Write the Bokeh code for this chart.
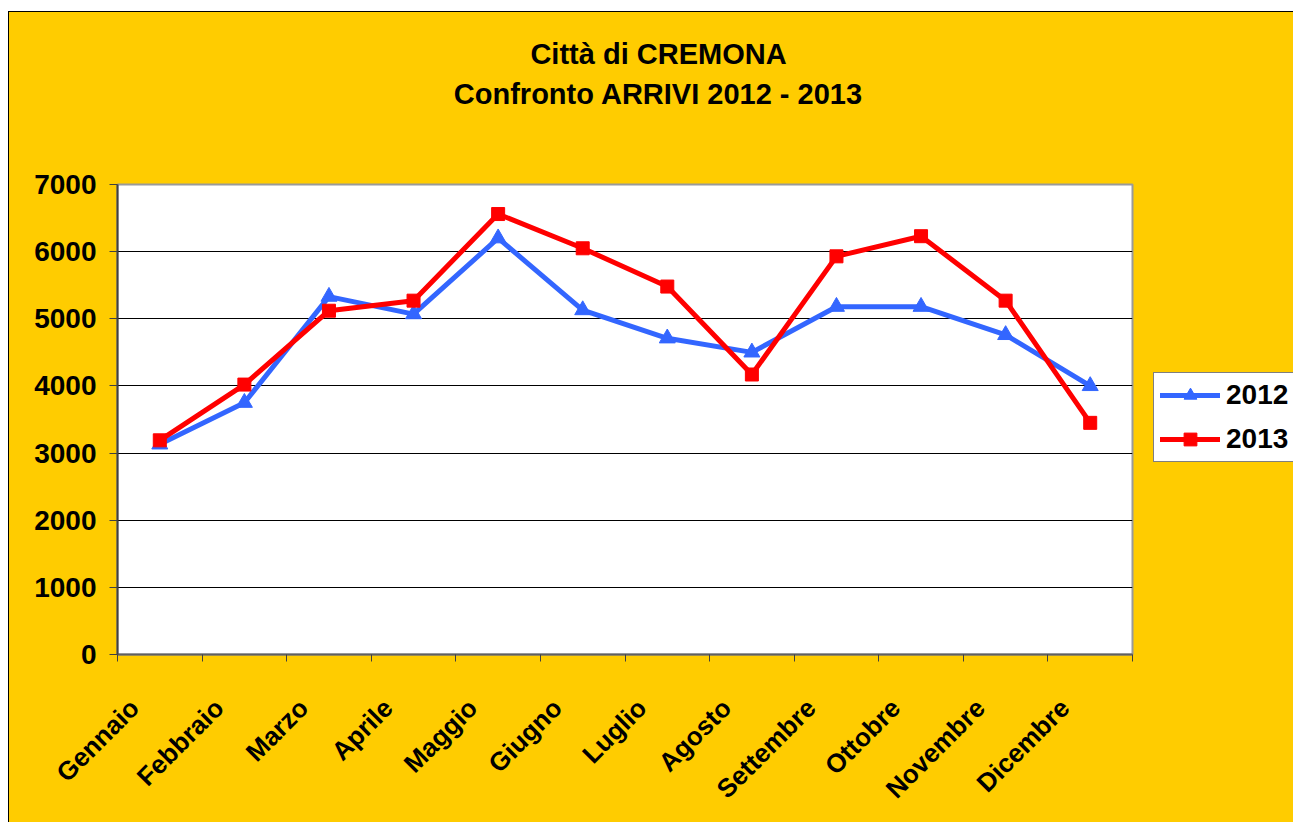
import math
from bokeh.plotting import figure
from bokeh.layouts import column, row
from bokeh.models import (Range1d, FixedTicker, CustomJSTickFormatter, Legend,
                          LegendItem, Label)
from bokeh.embed import file_html
from bokeh.resources import INLINE

# ---- data ----
months = ["Gennaio", "Febbraio", "Marzo", "Aprile", "Maggio", "Giugno",
          "Luglio", "Agosto", "Settembre", "Ottobre", "Novembre", "Dicembre"]
arrivi_2012 = [3130, 3750, 5330, 5070, 6200, 5130, 4710, 4500, 5180, 5180, 4760, 4000]
arrivi_2013 = [3190, 4020, 5120, 5270, 6560, 6050, 5480, 4170, 5930, 6230, 5270, 3450]
y_ticks = [0, 1000, 2000, 3000, 4000, 5000, 6000, 7000]
series_names = ["2012", "2013"]
title_lines = ["Città di CREMONA", "Confronto ARRIVI 2012 - 2013"]

# ---- styling / layout (pixel geometry of the page) ----
FONT = "Liberation Sans"
YELLOW = "#FFCC00"
BLUE = "#3366FF"
RED = "#FF0000"
OX, OY = 9, 12                  # chart area origin on the page (after border)
CW, CH = 1284, 810              # chart area size
TITLE_H = 138
MAIN_W = 1143
LEG_W = CW - MAIN_W
BODY_H = CH - TITLE_H
FRAME_L, FRAME_R, FRAME_T, FRAME_B = 117 - OX, 1132 - OX, 184 - OY, 654 - OY
y_max = y_ticks[-1]


def blank_fig(w, h, xr, yr):
    f = figure(width=w, height=h, output_backend="svg", toolbar_location=None,
               x_range=xr, y_range=yr, x_axis_location=None,
               y_axis_location=None, min_border=0)
    f.title.visible = False
    f.grid.visible = False
    f.outline_line_color = None
    f.background_fill_color = YELLOW
    f.border_fill_color = YELLOW
    return f


# ---- title strip ----
tf = blank_fig(CW, TITLE_H, Range1d(0, CW), Range1d(TITLE_H, 0))
for txt, base in zip(title_lines, [53 - OY, 93 - OY]):
    tf.add_layout(Label(x=658 - OX, y=base, text=txt, text_font=FONT,
                        text_font_style="bold", text_font_size="29px",
                        text_align="center", text_baseline="alphabetic",
                        text_color="black"))

# ---- main chart ----
p = figure(width=MAIN_W, height=BODY_H, output_backend="svg",
           toolbar_location=None,
           x_range=Range1d(0, len(months)), y_range=Range1d(0, y_max),
           min_border_left=FRAME_L, min_border_right=MAIN_W - FRAME_R,
           min_border_top=FRAME_T - TITLE_H, min_border_bottom=CH - FRAME_B)
p.title.visible = False
p.border_fill_color = YELLOW
p.background_fill_color = "white"
p.outline_line_color = "#9A9A9A"
p.outline_line_width = 2

xs = [i + 0.5 for i in range(len(months))]
label_pos = [x - 0.3 for x in xs]
bounds = list(range(len(months) + 1))

xa = p.xaxis[0]
xa.ticker = FixedTicker(ticks=label_pos, minor_ticks=bounds)
xa.formatter = CustomJSTickFormatter(args=dict(labels=months),
                                     code="return labels[Math.round(tick)] || '';")
xa.major_tick_out = 0
xa.major_tick_in = 0
xa.minor_tick_out = 7
xa.minor_tick_in = 0
xa.minor_tick_line_color = "#404040"
xa.axis_line_color = "#606060"
xa.axis_line_width = 2
xa.major_label_orientation = math.pi / 4
xa.major_label_standoff = 42
xa.major_label_text_font = FONT
xa.major_label_text_font_style = "bold"
xa.major_label_text_font_size = "26px"
xa.major_label_text_color = "black"

ya = p.yaxis[0]
ya.ticker = FixedTicker(ticks=y_ticks)
ya.major_tick_out = 8
ya.major_tick_in = 0
ya.minor_tick_out = 0
ya.minor_tick_in = 0
ya.major_tick_line_color = "#404040"
ya.axis_line_color = "#404040"
ya.axis_line_width = 2
ya.major_label_standoff = 13
ya.major_label_text_font = FONT
ya.major_label_text_font_style = "bold"
ya.major_label_text_font_size = "28px"
ya.major_label_text_color = "black"

p.xgrid.visible = False
p.ygrid.ticker = FixedTicker(ticks=y_ticks)
p.ygrid.grid_line_color = "black"
p.ygrid.grid_line_width = 1

p.line(xs, arrivi_2012, line_color=BLUE, line_width=5, line_join="round")
p.scatter(xs, arrivi_2012, marker="triangle", size=16, color=BLUE)
p.line(xs, arrivi_2013, line_color=RED, line_width=5, line_join="round")
p.scatter(xs, arrivi_2013, marker="square", size=13, color=RED)

# ---- legend strip: same series drawn off-view, only their legend shows ----
lf = blank_fig(LEG_W, BODY_H, Range1d(0, 1), Range1d(0, 1))
series = [(series_names[0], arrivi_2012, BLUE, "triangle", 16),
          (series_names[1], arrivi_2013, RED, "square", 13)]
items = []
for name, vals, col, mk, sz in series:
    lr = lf.line(xs, vals, line_color=col, line_width=5, line_cap="round")
    sr = lf.scatter(xs, vals, marker=mk, size=sz, color=col)
    items.append(LegendItem(label=name, renderers=[lr, sr]))

# legend frame is aligned with the main plot frame by the row layout
legend = Legend(items=items, location=(1, FRAME_B - (462 - OY)))
legend.label_text_font = FONT
legend.label_text_font_style = "bold"
legend.label_text_font_size = "28px"
legend.label_text_color = "black"
legend.label_standoff = 6
legend.glyph_width = 60
legend.glyph_height = 32
legend.label_height = 32
legend.padding = 6
legend.spacing = 12
legend.margin = 0
legend.border_line_color = "black"
legend.border_line_width = 1
legend.background_fill_color = "white"
legend.background_fill_alpha = 1
lf.add_layout(legend)

body = row(p, lf, styles={"background-color": YELLOW})
layout = column(tf, body, styles={"background-color": YELLOW,
                                  "margin-left": "8px", "margin-top": "11px",
                                  "border-top": "1px solid black",
                                  "border-left": "1px solid black"})
open("out.html", "w").write(file_html(layout, INLINE))
